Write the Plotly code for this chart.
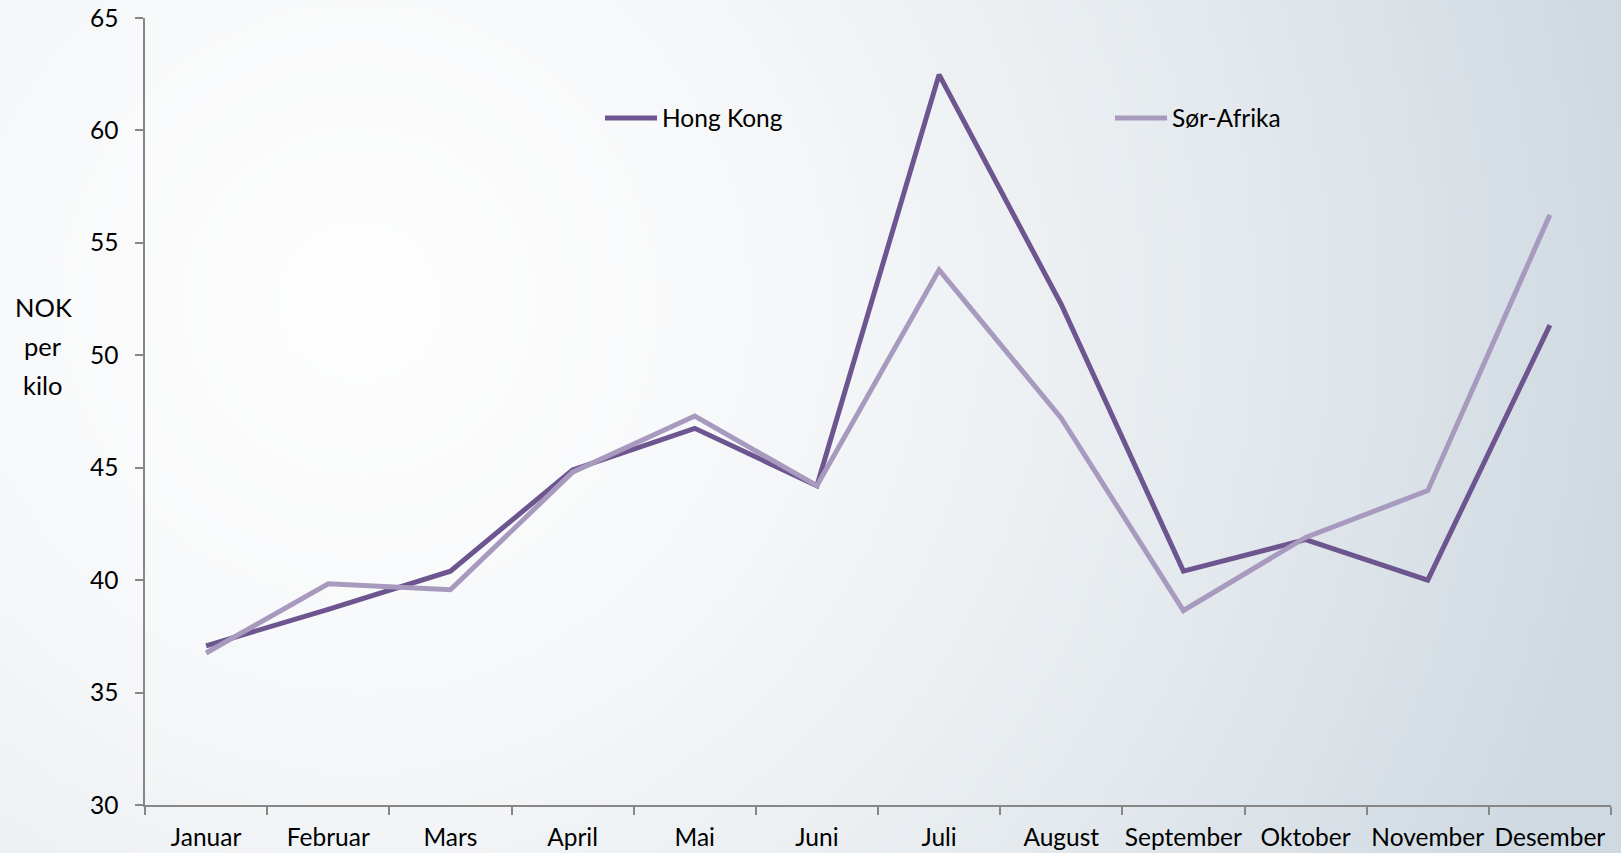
import zlib, struct, base64
import plotly.graph_objects as go

months = ["Januar", "Februar", "Mars", "April", "Mai", "Juni", "Juli",
          "August", "September", "Oktober", "November", "Desember"]
hong_kong = [37.08, 38.7, 40.4, 44.9, 46.75, 44.2, 62.48, 52.26, 40.4, 41.8, 40.0, 51.34]
sor_afrika = [36.76, 39.84, 39.57, 44.8, 47.3, 44.2, 53.8, 47.2, 38.65, 41.9, 43.98, 56.25]
y_title = ["NOK", "per", "kilo"]

W, H = 1621, 853
ML, MR, MT, MB = 145, 10, 18, 48
PW, PH = W - ML - MR, H - MT - MB

# background gradient (PNG generated in code)
def gradient_png(w, h):
    c0 = (253, 253, 253)
    c1 = (207, 217, 225)
    cx, cy = 0.22 * w, 0.35 * h
    dmax = ((w - cx) ** 2 + (0.25 * h) ** 2) ** 0.5
    rows = []
    for j in range(h):
        row = bytearray([0])
        for i in range(w):
            d = (((i - cx) ** 2 + ((j - cy) * 1.0) ** 2) ** 0.5) / dmax
            t = min(1.0, d) ** 1.6
            row += bytes(int(round(c0[k] + (c1[k] - c0[k]) * t)) for k in range(3))
        rows.append(bytes(row))
    raw = b"".join(rows)

    def chunk(tag, data):
        return (struct.pack(">I", len(data)) + tag + data +
                struct.pack(">I", zlib.crc32(tag + data) & 0xFFFFFFFF))
    png = (b"\x89PNG\r\n\x1a\n" +
           chunk(b"IHDR", struct.pack(">IIBBBBB", w, h, 8, 2, 0, 0, 0)) +
           chunk(b"IDAT", zlib.compress(raw, 9)) + chunk(b"IEND", b""))
    return "data:image/png;base64," + base64.b64encode(png).decode()

bg = gradient_png(324, 171)

FONT = "Lato"
FS = 24.5
fig = go.Figure()
fig.add_trace(go.Scatter(x=months, y=hong_kong, mode="lines", name="Hong Kong",
                         line=dict(color="#6d5690", width=5)))
fig.add_trace(go.Scatter(x=months, y=sor_afrika, mode="lines", name="Sør-Afrika",
                         line=dict(color="#a899be", width=5)))

title_y = [307, 346, 385]
annotations = [dict(text=t, xref="paper", yref="paper",
                    x=(43 - ML) / PW, y=1 - (yy - MT) / PH,
                    xanchor="center", yanchor="middle", showarrow=False,
                    font=dict(size=FS + 1, family=FONT))
               for t, yy in zip(y_title, title_y)]

fig.update_layout(
    width=W, height=H,
    margin=dict(l=ML, r=MR, t=MT, b=MB, pad=0, autoexpand=False),
    paper_bgcolor="white", plot_bgcolor="rgba(0,0,0,0)",
    font=dict(family=FONT, size=FS, color="#000000"),
    showlegend=True,
    legend=dict(orientation="h", x=(600 - ML) / PW, xanchor="left",
                y=1 - (118 - MT) / PH, yanchor="middle",
                itemwidth=52,
                entrywidth=443, entrywidthmode="pixels",
                bgcolor="rgba(0,0,0,0)", font=dict(size=FS, family=FONT)),
    images=[dict(source=bg, xref="paper", yref="paper",
                 x=-ML / PW, y=1 + MT / PH, sizex=W / PW, sizey=H / PH,
                 sizing="stretch", xanchor="left", yanchor="top", layer="below")],
    xaxis=dict(type="category", range=[-0.5, 11.5], showgrid=False, zeroline=False,
               showline=True, linecolor="#878787", linewidth=1.5, automargin=False,
               ticks="outside", tickson="boundaries", ticklen=8, tickcolor="#878787",
               tickwidth=1.5, tickangle=0, ticklabelstandoff=10,
               tickfont=dict(size=FS, family=FONT)),
    yaxis=dict(range=[30, 65], dtick=5, showgrid=False, zeroline=False,
               showline=True, linecolor="#878787", linewidth=1.5, automargin=False,
               ticks="outside", ticklen=8, tickcolor="#878787", tickwidth=1.5,
               ticklabelstandoff=12, tickfont=dict(size=FS, family=FONT)),
    annotations=annotations,
)

fig.write_html("out.html",
               config={"displayModeBar": False},
               post_script="document.body.style.margin='0';"
                           "document.body.style.overflow='hidden';")
